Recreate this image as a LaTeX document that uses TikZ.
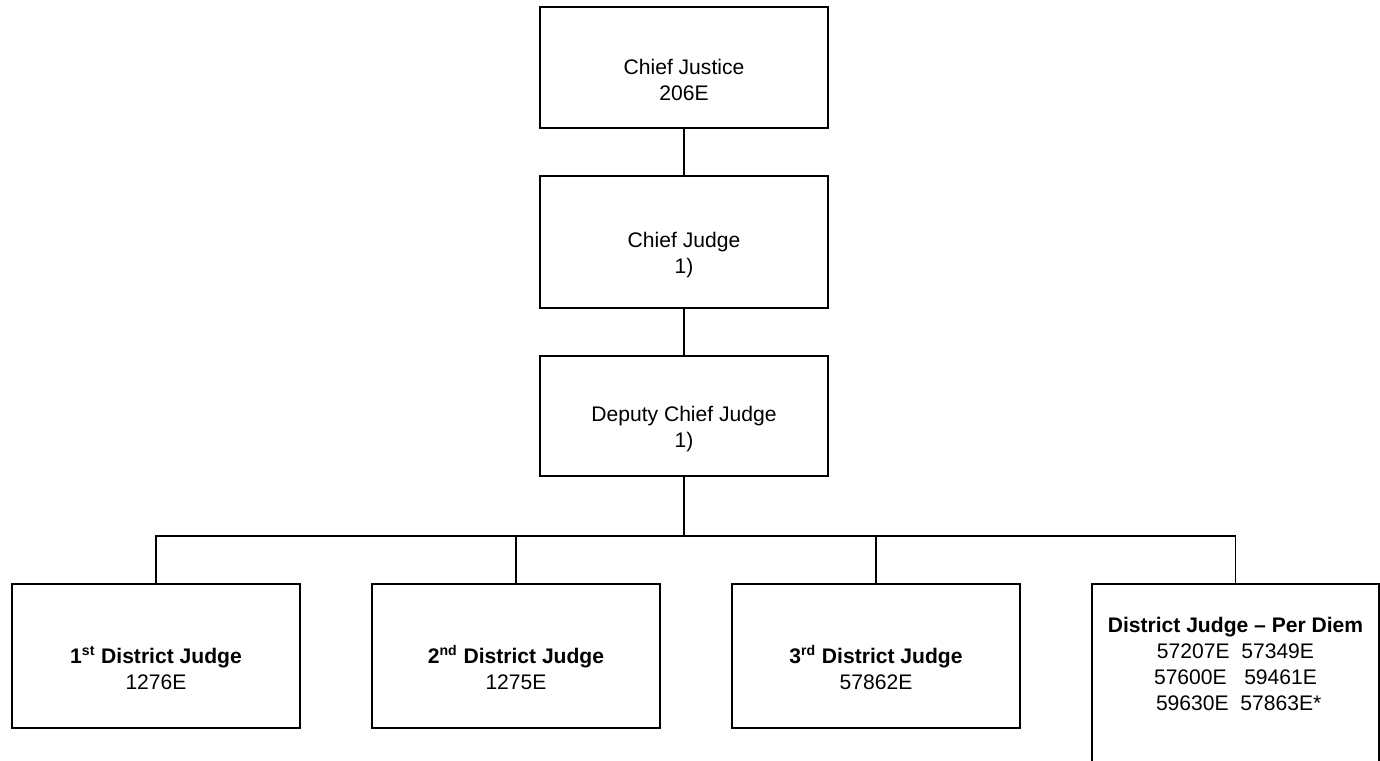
\documentclass[tikz,border=0pt]{standalone}
\usepackage{fontspec}
\setmainfont{Liberation Sans}
\newcommand{\upgap}{\rule{0pt}{23pt}}

\begin{document}
\begin{tikzpicture}[x=0.02cm,y=-0.02cm,line width=1pt,
  font=\fontsize{12}{14.8}\selectfont,
  post/.style={draw,align=center,minimum width=5.76cm,inner sep=0pt}]
  \useasboundingbox (0,0) rectangle (1380,761);
  \clip (0,0) rectangle (1380,761);

  % chain of command
  \node[post,minimum height=2.42cm] (cj) at (684,67.5)
    {\upgap Chief Justice\\206E};
  \node[post,minimum height=2.64cm] (cjudge) at (684,242)
    {\upgap Chief Judge\\1)};
  \node[post,minimum height=2.4cm] (dcj) at (684,416)
    {\upgap Deputy Chief Judge\\1)};

  % district judges
  \node[post,minimum height=2.88cm] (j1) at (156,656)
    {\upgap\textbf{1\textsuperscript{st} District Judge}\\1276E};
  \node[post,minimum height=2.88cm] (j2) at (516,656)
    {\upgap\textbf{2\textsuperscript{nd} District Judge}\\1275E};
  \node[post,minimum height=2.88cm] (j3) at (876,656)
    {\upgap\textbf{3\textsuperscript{rd} District Judge}\\57862E};
  \node[post,minimum width=5.74cm,minimum height=4.32cm] (pd) at (1235.5,692)
    {\textbf{District Judge -- Per Diem}\\57207E\ \ 57349E\\
     57600E\ \ \ 59461E\\\hspace*{.3em}59630E\ \ 57863E*\rule[-31.6pt]{0pt}{31.6pt}};

  \draw (cj) -- (cjudge);
  \draw (cjudge) -- (dcj);
  \coordinate (bus) at (684,536);
  \draw (dcj) -- (bus);
  \draw (j1.north) |- (bus) -| (pd.north);
  \foreach \n in {j2,j3}
    \draw (\n.north) -- (\n.north |- bus);
\end{tikzpicture}
\end{document}
